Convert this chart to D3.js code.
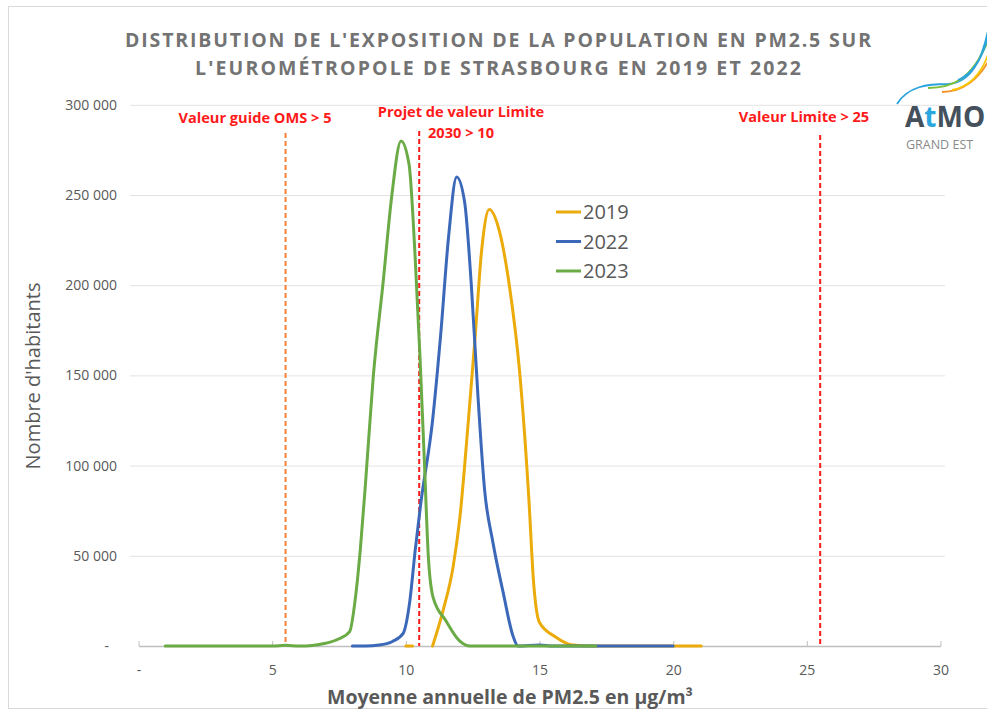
<!DOCTYPE html>
<html>
<head>
<meta charset="utf-8">
<script src="https://cdn.jsdelivr.net/npm/d3@7"></script>
<style>
  html, body { margin: 0; padding: 0; background: #fff; }
  svg { display: block; font-family: "Open Sans", "DejaVu Sans", sans-serif; }
</style>
</head>
<body>
<svg id="chart" width="987" height="713"></svg>
<script>
// ---------- DATA ----------
const titleLines = [
  "DISTRIBUTION DE L'EXPOSITION DE LA POPULATION EN PM2.5 SUR",
  "L'EUROMÉTROPOLE DE STRASBOURG EN 2019 ET 2022"
];
const categories = ["2019", "2022", "2023"];
const colors = ["#ebab0b", "#3b68b8", "#6aab45"];

// [PM2.5 µg/m3, habitants]; null = gap
const pm2019 = [
  [10.0, 0], [10.25, 0], [10.4, null],
  [11.0, 0], [11.4, 20000], [11.77, 44000], [12.02, 71000], [12.34, 125000],
  [12.59, 171000], [12.84, 220000], [13.12, 242000], [13.5, 230000], [13.88, 199000],
  [14.25, 153000], [14.6, 82000], [14.78, 35000], [15.0, 13000], [15.6, 5000],
  [16.25, 500], [17, 0], [18, 0], [19, 0], [20, 0], [21.05, 0]
];
const pm2022 = [
  [8.0, 0], [8.5, 0], [9.0, 500], [9.5, 2500], [9.9, 7000], [10.15, 25000],
  [10.35, 53000], [10.55, 78000], [11.0, 125000], [11.3, 172000], [11.6, 227000],
  [11.9, 260000], [12.2, 246000], [12.45, 200000], [12.7, 138000], [12.95, 86000],
  [13.25, 58000], [13.65, 29000], [14.0, 6000], [14.2, 0], [15.0, 600], [15.5, 0],
  [16, 0], [17, 0], [18, 0], [19, 0], [20.0, 0]
];
const pm2023 = [
  [1.0, 0], [2, 0], [3, 0], [4, 0], [5, 0], [5.5, 400], [6.0, 0], [6.5, 300],
  [7.0, 1500], [7.5, 4000], [7.9, 8000], [8.1, 25000], [8.3, 54000], [8.5, 92000],
  [8.78, 149000], [9.16, 203000], [9.47, 249000], [9.82, 280000], [10.12, 267000],
  [10.34, 218000], [10.53, 160000], [10.7, 100000], [10.84, 50000], [11.02, 27000],
  [11.5, 14000], [12.0, 3000], [12.4, 0], [13, 0], [14, 0], [15, 0], [16, 0], [17.1, 0]
];
const seriesData = [pm2019, pm2022, pm2023];

const xTicks = [0, 5, 10, 15, 20, 25, 30];
const xTickLabels = ["-", "5", "10", "15", "20", "25", "30"];
const yTicks = [0, 50000, 100000, 150000, 200000, 250000, 300000];
const yTickLabels = ["-", "50 000", "100 000", "150 000", "200 000", "250 000", "300 000"];

const refValues = [5.5, 10.5, 25.5];
const refColors = ["#f4823c", "#ff1a1a", "#ff1a1a"];
const refLabels = [["Valeur guide OMS > 5"], ["Projet de valeur Limite", "2030 > 10"], ["Valeur Limite > 25"]];

const xTitle = "Moyenne annuelle de PM2.5 en µg/m³";
const yTitle = "Nombre d'habitants";

// ---------- LAYOUT ----------
const svg = d3.select("#chart");
const plotL = 138.5, plotR = 940.5, plotT = 104.8, plotB = 646;
const x = d3.scaleLinear().domain([0, 30]).range([plotL, plotR]);
const y = d3.scaleLinear().domain([0, 300000]).range([plotB, plotT]);
const textGray = "#595959";

// frame
svg.append("rect").attr("x", 8.5).attr("y", 6.5).attr("width", 1000).attr("height", 702)
  .attr("fill", "#fff").attr("stroke", "#d9d9d9");

// title
const titleWidths = [746, 606];
svg.append("g").selectAll("text").data(titleLines).join("text")
  .attr("x", 498).attr("y", (d, i) => 47 + i * 28)
  .attr("text-anchor", "middle")
  .attr("font-size", 19.5).attr("font-weight", "bold")
  .attr("fill", "#737373")
  .attr("textLength", (d, i) => titleWidths[i])
  .attr("lengthAdjust", "spacing")
  .text(d => d);

// gridlines
svg.append("g")
  .attr("transform", `translate(130,0)`)
  .call(d3.axisLeft(y).tickValues(yTicks.slice(1)).tickSize(-(945 - 130)).tickFormat(""))
  .call(g => g.select(".domain").remove())
  .call(g => g.selectAll("line").attr("stroke", "#e3e3e3").attr("stroke-width", 1));

// y axis labels
svg.append("g")
  .attr("transform", `translate(130,0)`)
  .call(d3.axisLeft(y).tickValues(yTicks).tickSize(0).tickPadding(13)
    .tickFormat((d, i) => yTickLabels[i]))
  .call(g => g.select(".domain").remove())
  .call(g => g.selectAll("text")
    .attr("font-family", "'Open Sans', sans-serif")
    .attr("font-size", 14).attr("fill", textGray)
    .attr("dx", (d) => d === 0 ? -8 : 0));

// x axis
svg.append("g")
  .attr("transform", `translate(0,${plotB})`)
  .call(d3.axisBottom(x).tickValues(xTicks).tickSizeInner(-5).tickSizeOuter(0).tickPadding(19)
    .tickFormat((d, i) => xTickLabels[i]))
  .call(g => g.select(".domain").attr("stroke", "#bfbfbf").attr("stroke-width", 1.3))
  .call(g => g.selectAll("line").attr("stroke", "#bfbfbf"))
  .call(g => g.selectAll("text")
    .attr("font-family", "'Open Sans', sans-serif")
    .attr("font-size", 14).attr("fill", textGray));

// reference lines
svg.append("g").selectAll("line").data(refValues).join("line")
  .attr("x1", d => x(d)).attr("x2", d => x(d))
  .attr("y1", (d, i) => [133, 131, 135][i]).attr("y2", plotB)
  .attr("stroke", (d, i) => refColors[i])
  .attr("stroke-width", 2)
  .attr("stroke-dasharray", "5,3");

// series
const line = d3.line()
  .defined(d => d[1] !== null)
  .x(d => x(d[0])).y(d => y(d[1]))
  .curve(d3.curveMonotoneX);
svg.append("g").selectAll("path").data(seriesData).join("path")
  .attr("d", d => line(d))
  .attr("fill", "none")
  .attr("stroke", (d, i) => colors[i])
  .attr("stroke-width", 3)
  .attr("stroke-linejoin", "round").attr("stroke-linecap", "round");

// reference labels
const refLabelPos = [[255, 118], [461, 112], [804, 117]];
refLabels.forEach((lines, i) => {
  svg.append("text")
    .attr("x", refLabelPos[i][0]).attr("y", refLabelPos[i][1] + 5)
    .attr("text-anchor", "middle")
    .attr("font-size", 14.6).attr("font-weight", "bold")
    .attr("fill", "#ff1a1a")
    .selectAll("tspan").data(lines).join("tspan")
    .attr("x", refLabelPos[i][0]).attr("dy", (d, j) => j === 0 ? 0 : 21)
    .text(d => d);
});

// legend
const lg = svg.append("g").attr("transform", "translate(556,212)");
categories.forEach((c, i) => {
  const row = lg.append("g").attr("transform", `translate(0,${i * 29.5})`);
  row.append("line").attr("x1", 0).attr("x2", 25).attr("y1", 0).attr("y2", 0)
    .attr("stroke", colors[i]).attr("stroke-width", 3);
  row.append("text").attr("x", 27).attr("y", 7)
    .attr("font-size", 20).attr("fill", textGray).text(c);
});

// axis titles
svg.append("text")
  .attr("x", 510).attr("y", 704)
  .attr("text-anchor", "middle")
  .attr("font-size", 19.5).attr("font-weight", "bold").attr("fill", textGray)
  .text(xTitle);
svg.append("text")
  .attr("transform", "translate(40,376) rotate(-90)")
  .attr("text-anchor", "middle")
  .attr("font-size", 20).attr("fill", textGray)
  .text(yTitle);

// logo (AtMO Grand Est)
const logo = svg.append("g");
const swooshes = [
  { c: "#29a3dc", d: "M897,104 C908,86 928,84 948,84 C970,83 983,62 990,20" },
  { c: "#7bbf3a", d: "M928,88 C950,88 972,82 990,36" },
  { c: "#f39325", d: "M942,92 C962,92 979,80 990,58" },
  { c: "#f7c600", d: "M952,90 C972,86 984,70 990,48" },
  { c: "#29a3dc", d: "M958,80 C975,73 985,52 990,28" }
];
logo.selectAll("path").data(swooshes).join("path")
  .attr("d", d => d.d).attr("fill", "none")
  .attr("stroke", d => d.c).attr("stroke-width", 1.8);
logo.append("text").attr("x", 905).attr("y", 127)
  .attr("font-size", 28).attr("font-weight", "bold").attr("fill", "#44505c")
  .html('A<tspan fill="#2aa7df">t</tspan>MO');
logo.append("text").attr("x", 906).attr("y", 149)
  .attr("font-size", 12.5).attr("fill", "#8a8a8a")
  .text("GRAND EST");
</script>
</body>
</html>
